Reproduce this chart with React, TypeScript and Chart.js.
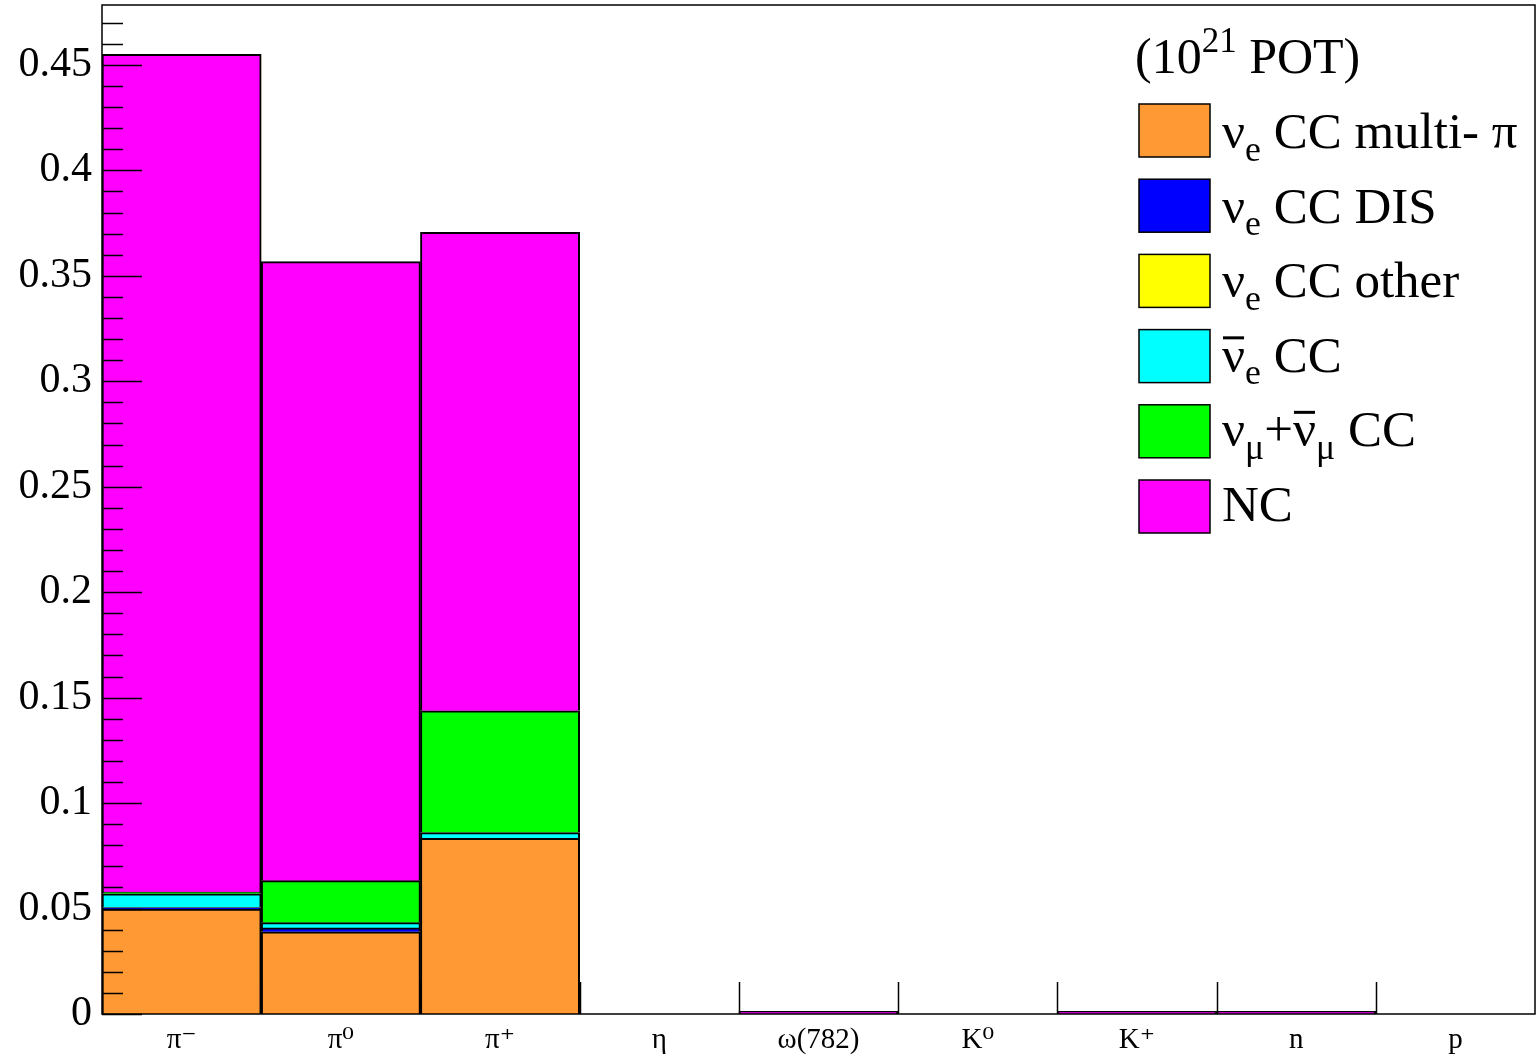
import React, { useEffect, useRef } from "react";
import { Chart, registerables } from "chart.js";

Chart.register(...registerables);

const categories = ["π⁻", "π⁰", "π⁺", "η", "ω(782)", "K⁰", "K⁺", "n", "p"];
const nueMultiPi = [0.0498, 0.039, 0.0833, null, null, null, null, null, null];
const nueDIS = [0.0007, 0.0018, null, null, null, null, null, null, null];
const nueOther = [null, null, null, null, null, null, null, null, null];
const antiNueCC = [0.0065, 0.0025, 0.0027, null, null, null, null, null, null];
const numuCC = [0.0008, 0.0199, 0.0578, null, null, null, null, null, null];
const ncValues = [0.3972, 0.2935, 0.2268, null, 0.0013, null, 0.0013, 0.0013, null];

const yTickValues = [0, 0.05, 0.1, 0.15, 0.2, 0.25, 0.3, 0.35, 0.4, 0.45];
const yTickLabels = ["0", "0.05", "0.1", "0.15", "0.2", "0.25", "0.3", "0.35", "0.4", "0.45"];
const yMax = 0.4784;

const seriesColors = ["#FF9933", "#0000FF", "#FFFF00", "#00FFFF", "#00FF00", "#FF00FF"];

type Seg = { t: string; sub?: boolean; sup?: boolean; bar?: boolean };
const legendHeader: Seg[] = [{ t: "(10" }, { t: "21", sup: true }, { t: " POT)" }];
const legendLabels: Seg[][] = [
  [{ t: "ν" }, { t: "e", sub: true }, { t: " CC multi- π" }],
  [{ t: "ν" }, { t: "e", sub: true }, { t: " CC DIS" }],
  [{ t: "ν" }, { t: "e", sub: true }, { t: " CC other" }],
  [{ t: "ν", bar: true }, { t: "e", sub: true }, { t: " CC" }],
  [{ t: "ν" }, { t: "μ", sub: true }, { t: "+" }, { t: "ν", bar: true }, { t: "μ", sub: true }, { t: " CC" }],
  [{ t: "NC" }],
];

const FONT = "'Liberation Serif', 'DejaVu Serif', serif";

function drawRich(ctx: CanvasRenderingContext2D, x: number, y: number, segs: Seg[], size: number) {
  let cx = x;
  for (const s of segs) {
    const sz = s.sub || s.sup ? size * 0.7 : size;
    ctx.font = `${sz}px ${FONT}`;
    const dy = s.sub ? size * 0.25 : s.sup ? -size * 0.42 : 0;
    ctx.fillText(s.t, cx, y + dy);
    const w = ctx.measureText(s.t).width;
    if (s.bar) {
      ctx.save();
      ctx.lineWidth = 3;
      ctx.beginPath();
      ctx.moveTo(cx + 1, y - size * 0.66);
      ctx.lineTo(cx + w - 1, y - size * 0.66);
      ctx.stroke();
      ctx.restore();
    }
    cx += w;
  }
}

const decorPlugin = {
  id: "decor",
  afterDatasetsDraw(chart: any) {
    const ctx: CanvasRenderingContext2D = chart.ctx;
    const { left, right, top, bottom } = chart.chartArea;
    const ys = chart.scales.y;
    const xs = chart.scales.x;
    ctx.save();
    ctx.strokeStyle = "#000";
    ctx.lineWidth = 1.5;
    for (let i = 0; i <= 47; i++) {
      const v = i / 100;
      const py = Math.round(ys.getPixelForValue(v)) + 0.5;
      if (py < top) continue;
      const len = i % 5 === 0 ? 40 : 21;
      ctx.beginPath();
      ctx.moveTo(left, py);
      ctx.lineTo(left + len, py);
      ctx.stroke();
    }
    for (let i = 0; i < categories.length - 1; i++) {
      const px = Math.round((xs.getPixelForValue(i) + xs.getPixelForValue(i + 1)) / 2) + 0.5;
      ctx.beginPath();
      ctx.moveTo(px, bottom);
      ctx.lineTo(px, bottom - 32);
      ctx.stroke();
    }
    ctx.lineWidth = 1.5;
    ctx.strokeRect(left, top, right - left, bottom - top);

    ctx.fillStyle = "#000";
    ctx.textBaseline = "alphabetic";
    ctx.textAlign = "left";
    drawRich(ctx, 1135, 73, legendHeader, 50);
    for (let i = 0; i < legendLabels.length; i++) {
      const by = 104 + i * 75.2;
      ctx.fillStyle = seriesColors[i];
      ctx.fillRect(1139, by, 71, 53);
      ctx.strokeStyle = "#000";
      ctx.lineWidth = 1.5;
      ctx.strokeRect(1139, by, 71, 53);
      ctx.fillStyle = "#000";
      drawRich(ctx, 1222, 148 + i * 74.5, legendLabels[i], 51);
    }
    ctx.restore();
  },
};

export default function App() {
  const ref = useRef<HTMLCanvasElement | null>(null);
  useEffect(() => {
    if (!ref.current) return;
    const seriesData = [nueMultiPi, nueDIS, nueOther, antiNueCC, numuCC, ncValues];
    const seriesNames = ["νe CC multi-π", "νe CC DIS", "νe CC other", "anti-νe CC", "νμ+anti-νμ CC", "NC"];
    const chart = new Chart(ref.current, {
      type: "bar",
      data: {
        labels: categories,
        datasets: seriesData.map((d, i) => ({
          label: seriesNames[i],
          data: d as any,
          backgroundColor: seriesColors[i],
          borderColor: "#000",
          borderWidth: 2,
          categoryPercentage: 1,
          barPercentage: 1,
          stack: "s",
        })),
      },
      options: {
        responsive: false,
        animation: false,
        layout: { padding: { top: 5, right: 2, left: 0, bottom: 0 } },
        plugins: { legend: { display: false }, tooltip: { enabled: false } },
        scales: {
          x: {
            stacked: true,
            grid: { display: false, drawTicks: false },
            border: { display: false },
            ticks: {
              color: "#000",
              font: { family: FONT, size: 29 },
              padding: 9,
              maxRotation: 0,
              autoSkip: false,
            },
            afterFit(scale: any) {
              scale.height = 44;
              scale.paddingLeft = 0;
              scale.paddingRight = 0;
            },
          },
          y: {
            stacked: true,
            min: 0,
            max: yMax,
            grid: { display: false, drawTicks: false },
            border: { display: false },
            afterBuildTicks(scale: any) {
              scale.ticks = yTickValues.map((v) => ({ value: v }));
            },
            ticks: {
              color: "#000",
              font: { family: FONT, size: 42 },
              padding: 10,
              callback: (_v: any, i: number) => yTickLabels[i],
            },
            afterFit(scale: any) {
              scale.width = 102;
              scale.paddingTop = 0;
              scale.paddingBottom = 0;
            },
          },
        },
      },
      plugins: [decorPlugin],
    });
    return () => chart.destroy();
  }, []);
  return (
    <div style={{ position: "absolute", left: 0, top: 0, width: 1537, height: 1058, background: "#fff" }}>
      <canvas ref={ref} width={1537} height={1058} style={{ display: "block" }} />
    </div>
  );
}
